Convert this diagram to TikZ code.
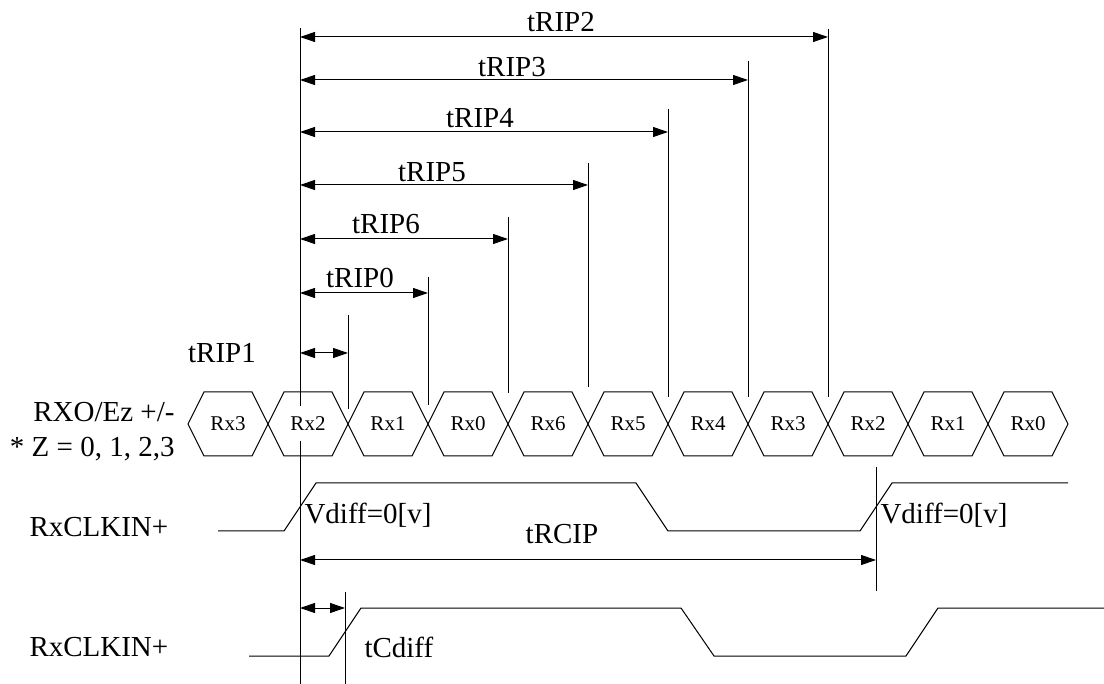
\documentclass[tikz,border=0pt]{standalone}
\usepackage{fontspec}
\setmainfont{Liberation Serif}
\usetikzlibrary{arrows.meta}

\begin{document}
\begin{tikzpicture}[x=1pt, y=-1pt, line width=1pt,
		dim/.style={<->, >={Triangle[length=15pt,width=10pt]}},
		lbl/.style={font=\fontsize{29}{35}\selectfont, inner sep=0pt},
		hexlbl/.style={font=\fontsize{21}{24}\selectfont, inner sep=0pt}]
	\useasboundingbox (0,0) rectangle (1104,684);
	
	% Reference line
	\coordinate (reftop) at (300,28);
	\coordinate (refgap1) at (300,406);
	\coordinate (refgap2) at (300,441);
	\coordinate (refbot) at (300,684);
	\draw (reftop) -- (refgap1);
	\draw (refgap2) -- (refbot);
	
	% Data timing
	\foreach \k/\x/\top/\bot/\y/\lx/\ly in {2/828/29/397/37/561/22, 3/748/61/397/80/512/67, 4/668/109/397/132/480/118, 5/588/163/387/185/432/172, 6/508/217/393/239/386/224, 0/428/277/405/293/360/278, 1/348/315/409/353/222/353} {
		\coordinate (top\k) at (\x,\top);
		\coordinate (bot\k) at (\x,\bot);
		\draw (top\k) -- (bot\k);
		\coordinate (start\k) at (300,\y);
		\coordinate (stop\k) at (\x,\y);
		\draw[dim] (start\k) -- (stop\k);
		\node[lbl] (trip\k) at (\lx,\ly) {tRIP\k};
	}
	
	% Data bus
	\node[lbl, anchor=east, align=right] (buslabel) at (175,432) {RXO/Ez +/-\\* Z = 0, 1, 2,3};
	\foreach \i/\name in {0/Rx3, 1/Rx2, 2/Rx1, 3/Rx0, 4/Rx6, 5/Rx5, 6/Rx4, 7/Rx3, 8/Rx2, 9/Rx1, 10/Rx0} {
		\draw ({188+80*\i},424) -- ({204+80*\i},392) -- ({252+80*\i},392) -- ({268+80*\i},424)
			-- ({252+80*\i},456) -- ({204+80*\i},456) -- cycle;
		\node[hexlbl] (bit\i) at ({228+80*\i},424) {\name};
	}
	
	% Clock 1
	\node[lbl, anchor=west] (clka) at (29,527) {RxCLKIN+};
	\draw (218,531) -- (284,531) -- (316,483) -- (636,483) -- (668,531) -- (860,531) -- (892,483) -- (1068,483);
	\node[lbl, anchor=west] (vdiffa) at (304,515) {Vdiff=0[v]};
	\node[lbl, anchor=west] (vdiffb) at (880,515) {Vdiff=0[v]};
	\coordinate (cliptop) at (876,467);
	\coordinate (clipbot) at (876,591);
	\draw (cliptop) -- (clipbot);
	\coordinate (clipa) at (300,560);
	\coordinate (clipb) at (876,560);
	\draw[dim] (clipa) -- (clipb);
	\node[lbl] (trcip) at (562,534) {tRCIP};
	
	% Clock 2
	\node[lbl, anchor=west] (clkb) at (29,647) {RxCLKIN+};
	\draw (249,656) -- (329,656) -- (361,608) -- (681,608) -- (714,656) -- (906,656) -- (938,608) -- (1104,608);
	\coordinate (difftop) at (345,592);
	\coordinate (diffbot) at (345,684);
	\draw (difftop) -- (diffbot);
	\coordinate (diffa) at (300,608);
	\coordinate (diffb) at (345,608);
	\draw[dim] (diffa) -- (diffb);
	\node[lbl, anchor=west] (tcdiff) at (364,647) {tCdiff};
\end{tikzpicture}
\end{document}
